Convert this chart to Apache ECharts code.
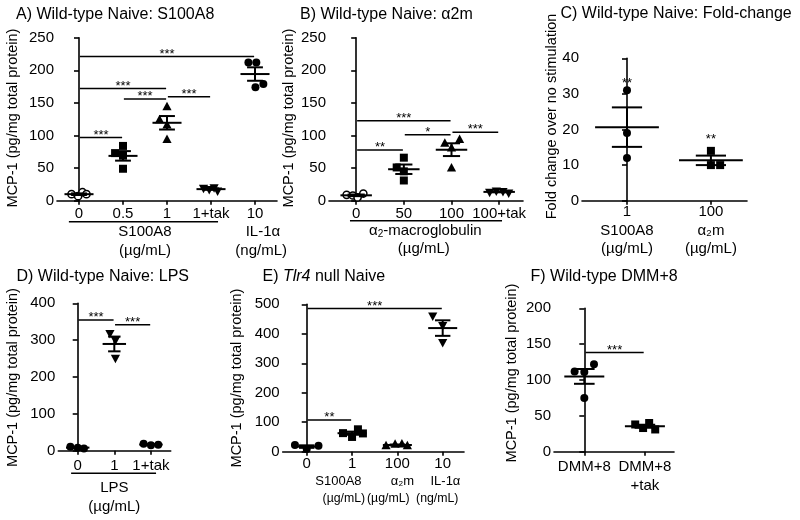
<!DOCTYPE html>
<html><head><meta charset="utf-8">
<script src="https://cdn.jsdelivr.net/npm/echarts@6/dist/echarts.min.js"></script>
<style>html,body{margin:0;padding:0;background:#fff}#c{width:800px;height:520px}</style>
</head><body><div id="c"></div>
<script>
// ---------------- DATA ----------------
// Panel A: Wild-type Naive: S100A8
const aLabels = ['0', '0.5', '1', '1+tak', '10'];
const aVehicle = [10, 7, 13, 10];
const aS100A8_05 = [84, 73, 69, 49];
const aS100A8_1 = [144, 124, 116, 94];
const aS100A8_1tak = [19, 17, 20, 15];
const aIL1a = [212, 212, 179, 174];
const aSig = [[0, 1, 97, '***'], [0, 2, 172, '***'], [1, 2, 156, '***'], [2, 3, 159.5, '***'], [0, 4, 221, '***']];
// Panel B: Wild-type Naive: a2m
const bLabels = ['0', '50', '100', '100+tak'];
const bVehicle = [9, 8, 5, 11];
const bA2m_50 = [66, 51, 45, 31];
const bA2m_100 = [94, 88, 81, 50];
const bA2m_100tak = [13, 15, 14, 12];
const bSig = [[0, 2, 122.7, '***'], [1, 2, 101, '*'], [2, 3, 104.9, '***'], [0, 1, 77.8, '**']];
// Panel C: Fold-change
const cLabels = ['1\nS100A8\n(µg/mL)', '100\nα\u2082m\n(µg/mL)'];
const cS100A8 = [31, 19, 12];
const cA2m = [14, 10, 10];
const cStars = [[0, 33.9, '**'], [1, 18, '**']];
// Panel D: LPS
const dLabels = ['0', '1', '1+tak'];
const dVehicle = [11, 8, 6];
const dLPS_1 = [318, 300, 251];
const dLPS_1tak = [19, 15, 16];
const dSig = [[0, 1, 354.7, '***'], [1, 2, 342, '***']];
// Panel E: Tlr4 null Naive
const eLabels = ['0', '1', '100', '10'];
const eSubLabels = ['', 'S100A8', 'α\u2082m', 'IL-1α'];
const eUnitLabels = ['', '(µg/mL)', '(µg/mL)', '(ng/mL)'];
const eVehicle = [23, 9, 20];
const eS100A8 = [63, 50, 76, 62];
const eA2m = [20, 25, 26, 20];
const eIL1a = [460, 428, 370];
const eSig = [[0, 3, 486, '***'], [0, 1, 107.5, '**']];
// Panel F: Wild-type DMM+8
const fLabels = ['DMM+8', 'DMM+8\n+tak'];
const fDMM = [122, 112, 111, 75];
const fDMMtak = [38, 33, 40, 31];
const fSig = [[0, 1, 138.3, '***']];

// ---------------- LAYOUT (point jitter in category units) ----------------
const FONT = 'Liberation Sans, Arial, Helvetica, sans-serif';
const panels = [
  { grid: {left: 57, top: 37.7, width: 220, height: 163}, xMin: -0.5, xMax: 4.5, yMax: 250, yInt: 50,
    labels: aLabels, lm: 4, hw: 0.33, hc: 0.18, sig: aSig,
    groups: [
      {v: aVehicle, j: [-0.17, -0.02, 0.08, 0.17], sym: 'emptyCircle'},
      {v: aS100A8_05, j: [0, -0.18, 0, 0], sym: 'rect'},
      {v: aS100A8_1, j: [0, -0.17, 0, 0], sym: 'triUp'},
      {v: aS100A8_1tak, j: [-0.17, -0.04, 0.07, 0.15], sym: 'triDown'},
      {v: aIL1a, j: [-0.15, 0.03, 0.19, 0.01], sym: 'circle'}]},
  { grid: {left: 329, top: 37.7, width: 194, height: 163}, xMin: -0.57, xMax: 3.5, yMax: 250, yInt: 50,
    labels: bLabels, lm: 4, hw: 0.33, hc: 0.18, sig: bSig,
    groups: [
      {v: bVehicle, j: [-0.2, -0.07, 0.03, 0.15], sym: 'emptyCircle'},
      {v: bA2m_50, j: [0, -0.15, 0, 0], sym: 'rect'},
      {v: bA2m_100, j: [0.17, -0.14, 0, 0], sym: 'triUp'},
      {v: bA2m_100tak, j: [-0.2, -0.06, 0.08, 0.2], sym: 'triDown'}]},
  { grid: {left: 582, top: 58.3, width: 165, height: 142.4}, xMin: -0.536, xMax: 1.43, yMax: 40, yInt: 10,
    labels: cLabels, lm: 2, hw: 0.38, hc: 0.18, sig: [], stars: cStars,
    groups: [
      {v: cS100A8, j: [0, 0, 0], sym: 'circle'},
      {v: cA2m, j: [0, 0, 0.11], sym: 'rect'}]},
  { grid: {left: 58.3, top: 303.3, width: 112.4, height: 147.4}, xMin: -0.53, xMax: 2.54, yMax: 400, yInt: 100,
    labels: dLabels, lm: 6, hw: 0.32, hc: 0.17, sig: dSig,
    groups: [
      {v: dVehicle, j: [-0.2, 0, 0.17], sym: 'circle'},
      {v: dLPS_1, j: [-0.12, 0.03, 0.03], sym: 'triDown'},
      {v: dLPS_1tak, j: [-0.2, 0, 0.2], sym: 'circle'}]},
  { grid: {left: 282.7, top: 304.3, width: 181.3, height: 147.4}, xMin: -0.53, xMax: 3.47, yMax: 500, yInt: 100,
    labels: eLabels, lm: 3, hw: 0.32, hc: 0.17, sig: eSig,
    groups: [
      {v: eVehicle, j: [-0.26, 0, 0.26], sym: 'circle'},
      {v: eS100A8, j: [-0.2, 0, 0.13, 0.24], sym: 'rect'},
      {v: eA2m, j: [-0.25, -0.05, 0.1, 0.22], sym: 'triUp'},
      {v: eIL1a, j: [-0.22, 0, 0], sym: 'triDown'}]},
  { grid: {left: 554, top: 308.3, width: 120, height: 143.4}, xMin: -0.5, xMax: 1.48, yMax: 200, yInt: 50,
    labels: fLabels, lm: 6, hw: 0.33, hc: 0.17, sig: fSig,
    groups: [
      {v: fDMM, j: [0.16, -0.16, 0, 0], sym: 'circle'},
      {v: fDMMtak, j: [-0.16, -0.03, 0.07, 0.17], sym: 'rect'}]}
];

function mean(a) { return a.reduce((s, x) => s + x, 0) / a.length; }
function sem(a) { const m = mean(a); const v = a.reduce((s, x) => s + (x - m) * (x - m), 0) / (a.length - 1); return Math.sqrt(v / a.length); }

const BLACK = '#000';
function symbolShape(sym, cx, cy) {
  if (sym === 'circle') return {type: 'circle', shape: {cx: cx, cy: cy, r: 4}, style: {fill: BLACK}};
  if (sym === 'emptyCircle') return {type: 'circle', shape: {cx: cx, cy: cy, r: 3.6}, style: {fill: '#fff', stroke: BLACK, lineWidth: 1.5}};
  if (sym === 'rect') return {type: 'rect', shape: {x: cx - 4, y: cy - 4, width: 8, height: 8}, style: {fill: BLACK}};
  if (sym === 'triUp') return {type: 'polygon', shape: {points: [[cx, cy - 5], [cx - 4.6, cy + 3.5], [cx + 4.6, cy + 3.5]]}, style: {fill: BLACK}};
  return {type: 'polygon', shape: {points: [[cx, cy + 5], [cx - 4.6, cy - 3.5], [cx + 4.6, cy - 3.5]]}, style: {fill: BLACK}};
}

const grids = [], xAxes = [], yAxes = [], series = [];
panels.forEach((p, pi) => {
  grids.push(Object.assign({containLabel: false}, p.grid));
  const idx = p.labels.map((_, k) => k);
  xAxes.push({
    type: 'value', gridIndex: pi, min: p.xMin, max: p.xMax,
    splitLine: {show: false},
    axisLine: {show: true, onZero: false, lineStyle: {color: BLACK, width: 1.6}},
    axisTick: {show: true, customValues: idx, length: 4, lineStyle: {color: BLACK, width: 1.6}},
    axisLabel: {
      customValues: idx, margin: p.lm, color: BLACK, fontSize: 15, fontFamily: FONT, lineHeight: 18.5,
      showMinLabel: true, showMaxLabel: true, hideOverlap: false,
      formatter: v => p.labels[Math.round(v)]
    }
  });
  yAxes.push({
    type: 'value', gridIndex: pi, min: 0, max: p.yMax, interval: p.yInt,
    splitLine: {show: false},
    axisLine: {show: true, lineStyle: {color: BLACK, width: 1.6}},
    axisTick: {show: true, length: 5, lineStyle: {color: BLACK, width: 1.6}},
    axisLabel: {color: BLACK, fontSize: 15, fontFamily: FONT, margin: 3}
  });
  // points (one custom series per group, positions through the axes)
  p.groups.forEach((g, gi) => {
    const pts = g.v.map((v, k) => [gi + g.j[k], v]);
    series.push({
      type: 'custom', xAxisIndex: pi, yAxisIndex: pi, z: 3, silent: true,
      data: pts,
      renderItem: (params, api) => {
        const q = pts[params.dataIndex];
        const c = api.coord(q);
        return symbolShape(g.sym, c[0], c[1]);
      }
    });
  });
  // mean +/- SEM
  const stats = p.groups.map((g, gi) => [gi, mean(g.v), sem(g.v)]);
  series.push({
    type: 'custom', xAxisIndex: pi, yAxisIndex: pi, z: 4, silent: true,
    data: stats,
    renderItem: (params, api) => {
      const d = stats[params.dataIndex];
      const x = d[0], m = d[1], s = d[2];
      const c = (xx, yy) => api.coord([xx, yy]);
      const L = (a, b) => ({type: 'line', shape: {x1: a[0], y1: a[1], x2: b[0], y2: b[1]}, style: {stroke: BLACK, lineWidth: 2}});
      return {type: 'group', children: [
        L(c(x - p.hw, m), c(x + p.hw, m)),
        L(c(x - p.hc, m + s), c(x + p.hc, m + s)),
        L(c(x - p.hc, m - s), c(x + p.hc, m - s)),
        L(c(x, m + s), c(x, m - s))
      ]};
    }
  });
  // significance bars
  if (p.sig.length) {
    series.push({
      type: 'custom', xAxisIndex: pi, yAxisIndex: pi, z: 4, silent: true,
      data: p.sig.map(s => [s[0], s[2]]),
      renderItem: (params, api) => {
        const s = p.sig[params.dataIndex];
        const a = api.coord([s[0] + 0.02, s[2]]), b = api.coord([s[1] - 0.02, s[2]]);
        return {type: 'group', children: [
          {type: 'line', shape: {x1: a[0], y1: a[1], x2: b[0], y2: b[1]}, style: {stroke: BLACK, lineWidth: 1.5}},
          {type: 'text', x: (a[0] + b[0]) / 2, y: a[1] - 2.5,
           style: {text: s[3], fill: BLACK, fontSize: 13, fontFamily: FONT, align: 'center', verticalAlign: 'middle'}}
        ]};
      }
    });
  }
  if (p.stars) {
    series.push({
      type: 'custom', xAxisIndex: pi, yAxisIndex: pi, z: 4, silent: true,
      data: p.stars.map(s => [s[0], s[1]]),
      renderItem: (params, api) => {
        const s = p.stars[params.dataIndex];
        const a = api.coord([s[0], s[1]]);
        return {type: 'text', x: a[0], y: a[1] + 3,
          style: {text: s[2], fill: BLACK, fontSize: 13, fontFamily: FONT, align: 'center', verticalAlign: 'middle'}};
      }
    });
  }
});

const tStyle = {fontSize: 16, fontWeight: 'normal', fontFamily: FONT, color: BLACK, lineHeight: 18};
const titles = [
  {text: 'A) Wild-type Naive: S100A8', left: 16, top: 5.5},
  {text: 'B) Wild-type Naive: α2m', left: 300, top: 5.5},
  {text: 'C) Wild-type Naive: Fold-change', left: 560.5, top: 5},
  {text: 'D) Wild-type Naive: LPS', left: 16.5, top: 267.7},
  {text: '{a|E) }{i|Tlr4}{a| null Naive}', left: 262.5, top: 267.7},
  {text: 'F) Wild-type DMM+8', left: 530.5, top: 267.7}
].map(t => Object.assign({padding: 0, itemGap: 0, textStyle: Object.assign({}, tStyle, {
  rich: {a: {fontSize: 16, fontFamily: FONT, color: BLACK, lineHeight: 18},
         i: {fontSize: 16, fontFamily: FONT, color: BLACK, fontStyle: 'italic', lineHeight: 18}}})}, t));

const chart = echarts.init(document.getElementById('c'), null, {renderer: 'canvas'});
chart.setOption({
  animation: false,
  backgroundColor: '#fff',
  title: titles,
  grid: grids, xAxis: xAxes, yAxis: yAxes, series: series
});

// ---------------- ANNOTATION TEXT ----------------
const px = (gi, x, y) => chart.convertToPixel({gridIndex: gi}, [x, y]);
const T = (text, x, y, opts) => Object.assign({type: 'text', x: x, y: y, silent: true,
  style: Object.assign({text: text, fill: BLACK, fontSize: 15, fontFamily: FONT, align: 'center', verticalAlign: 'middle'}, (opts && opts.style) || {})},
  opts && opts.rotation ? {rotation: opts.rotation} : {});
const H = (x1, x2, y) => ({type: 'line', silent: true, shape: {x1: x1, y1: y, x2: x2, y2: y}, style: {stroke: BLACK, lineWidth: 1.6}});
const yTitle = 'MCP-1 (pg/mg total protein)';
const rot = Math.PI / 2;
const g = [];
// y-axis titles
g.push(T(yTitle, 12.7, 118, {rotation: rot, style: {fontSize: 14.5}}));
g.push(T(yTitle, 289.3, 118, {rotation: rot, style: {fontSize: 14.5}}));
g.push(T('Fold change over no stimulation', 551.7, 116.5, {rotation: rot, style: {fontSize: 14.5}}));
g.push(T(yTitle, 12.7, 377.5, {rotation: rot, style: {fontSize: 14.5}}));
g.push(T(yTitle, 237, 378, {rotation: rot, style: {fontSize: 14.5}}));
g.push(T(yTitle, 511.7, 373, {rotation: rot, style: {fontSize: 14.5}}));
// group labels A
{
  const b = px(0, 0, 0)[1];
  g.push(H(px(0, -0.23, 0)[0], px(0, 3.16, 0)[0], b + 21));
  g.push(T('S100A8', px(0, 1.5, 0)[0], b + 31.5));
  g.push(T('(µg/mL)', px(0, 1.5, 0)[0], b + 50));
  g.push(T('IL-1α', px(0, 4.18, 0)[0], b + 31.5));
  g.push(T('(ng/mL)', px(0, 4.14, 0)[0], b + 50));
}
// group labels B
{
  const b = px(1, 0, 0)[1];
  g.push(H(px(1, -0.13, 0)[0], px(1, 3.06, 0)[0], b + 20));
  g.push(T('{a|α}{s|2}{a|-macroglobulin}', px(1, 1.45, 0)[0], b + 30, {style: {
    rich: {a: {fontSize: 15, fontFamily: FONT, fill: BLACK}, s: {fontSize: 10, fontFamily: FONT, fill: BLACK, padding: [8, 0, 0, 0]}}}}));
  g.push(T('(µg/mL)', px(1, 1.42, 0)[0], b + 48.5));
}
// group labels D
{
  const b = px(3, 0, 0)[1];
  g.push(H(px(3, -0.18, 0)[0], px(3, 2.14, 0)[0], b + 22.5));
  g.push(T('LPS', px(3, 1, 0)[0], b + 37.5));
  g.push(T('(µg/mL)', px(3, 1, 0)[0], b + 56));
}
// sub labels E (tightly packed in the reference)
{
  const b = px(4, 0, 0)[1];
  const subOff = [0, -0.30, 0.11, 0.06], unitOff = [0, -0.18, -0.2, -0.12];
  eSubLabels.forEach((t, k) => { if (t) g.push(T(t, px(4, k + subOff[k], 0)[0], b + 30, {style: {fontSize: 13}})); });
  eUnitLabels.forEach((t, k) => { if (t) g.push(T(t, px(4, k + unitOff[k], 0)[0], b + 47, {style: {fontSize: 12.3}})); });
}
chart.setOption({graphic: g});
</script>
</body></html>
